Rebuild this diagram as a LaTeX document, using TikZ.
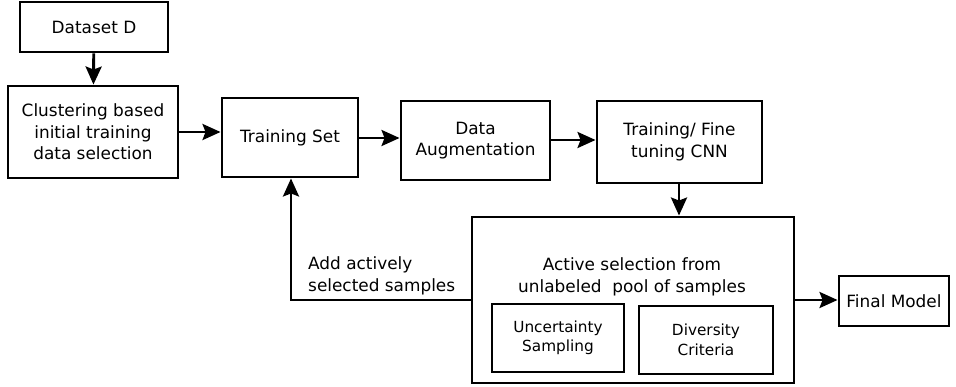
\documentclass[tikz,border=0pt]{standalone}
\usepackage{fontspec}
\setmainfont{DejaVu Sans}
\usetikzlibrary{arrows.meta}
\begin{document}
\begin{tikzpicture}[x=1pt,y=-1pt,
  box/.style={draw, line width=2.9pt, inner sep=0pt, align=center,
    font=\fontsize{16.9}{21.5}\selectfont},
  smallbox/.style={draw, line width=2.9pt, inner sep=0pt, align=center,
    font=\fontsize{15.3}{19.5}\selectfont},
  lbl/.style={inner sep=0pt, font=\fontsize{16.9}{21.5}\selectfont},
  conn/.style={line width=2.9pt, -{Stealth[length=18pt,width=16pt,inset=3pt]}}]
\useasboundingbox (0,0) rectangle (956,387);
\node[box, minimum width=148pt, minimum height=50pt] (ds) at (94,27) {Dataset D};
\node[box, minimum width=170pt, minimum height=92pt] (cl) at (93,132) {Clustering based\\initial training\\data selection};
\node[box, minimum width=136pt, minimum height=79pt] (ts) at (290,137.5) {Training Set};
\node[box, minimum width=149pt, minimum height=79pt] (da) at (475.5,140.5) {Data\\Augmentation};
\node[box, minimum width=165pt, minimum height=82pt] (cnn) at (679.5,142) {Training/ Fine\\tuning CNN};
\node[box, minimum width=322pt, minimum height=166pt] (act) at (633,300) {};
\node[lbl, align=center] (acttxt) at (632,277) {Active selection from\\unlabeled\ \ pool of samples};
\node[smallbox, minimum width=132pt, minimum height=68pt] (unc) at (558,338) {Uncertainty\\Sampling};
\node[smallbox, minimum width=134pt, minimum height=68pt] (div) at (706,340) {Diversity\\Criteria};
\node[box, minimum width=110pt, minimum height=50pt] (fm) at (894,301) {Final Model};
\node[lbl, align=left, anchor=west] (add) at (308,276) {Add actively\\selected samples};
\coordinate (corner) at (291,300);
\draw[conn] (ds) -- (cl);
\draw[conn] (cl.east |- 0,132) -- (ts.west |- 0,132);
\draw[conn] (ts.east |- 0,138) -- (da.west |- 0,138);
\draw[conn] (da.east |- 0,140) -- (cnn.west |- 0,140);
\draw[conn] (cnn.south -| 679,0) -- (act.north -| 679,0);
\draw[conn] (act.west |- corner) -- (corner) -- (ts.south -| corner);
\draw[conn] (act.east |- 0,300) -- (fm.west |- 0,300);
\end{tikzpicture}
\end{document}
